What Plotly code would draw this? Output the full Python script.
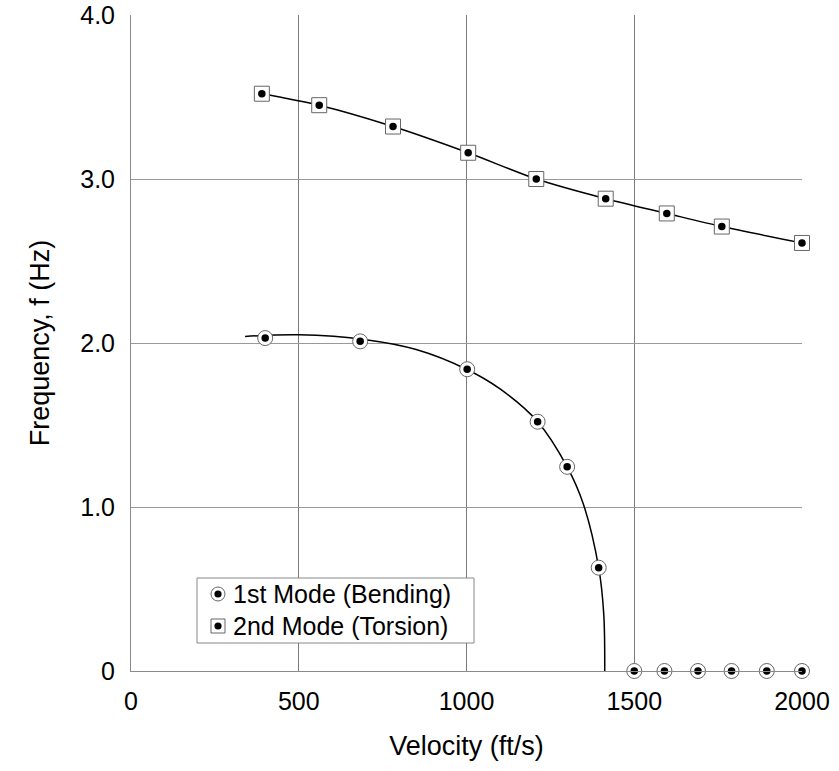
import plotly.graph_objects as go

# ---- data ----
bending_v = [400, 683, 1002, 1212, 1300, 1394, 1500, 1590, 1690, 1790, 1895, 2000]
bending_f = [2.03, 2.01, 1.84, 1.52, 1.245, 0.63, 0, 0, 0, 0, 0, 0]

bending_curve_v = [340, 500, 700, 850, 1000, 1100, 1212, 1300, 1348, 1394, 1409, 1412]
bending_curve_f = [2.04, 2.05, 2.02, 1.96, 1.84, 1.72, 1.52, 1.245, 1.02, 0.63, 0.35, 0.0]

torsion_v = [390, 561, 781, 1005, 1208, 1415, 1597, 1761, 2000]
torsion_f = [3.52, 3.45, 3.32, 3.16, 3.00, 2.88, 2.79, 2.71, 2.61]

x_ticks = [0, 500, 1000, 1500, 2000]
x_ticklabels = ["0", "500", "1000", "1500", "2000"]
y_ticks = [0, 1, 2, 3, 4]
y_ticklabels = ["0", "1.0", "2.0", "3.0", "4.0"]

legend_names = ["1st Mode (Bending)", "2nd Mode (Torsion)"]

FONT = "Liberation Sans, Arial, Helvetica, sans-serif"
W, H = 839, 771
L, R, T, B = 131, 37, 15, 100

fig = go.Figure()

# curves
fig.add_trace(go.Scatter(x=bending_curve_v, y=bending_curve_f, mode="lines",
                         line=dict(color="black", width=1.5, shape="spline", smoothing=1.0),
                         showlegend=False, hoverinfo="skip"))
fig.add_trace(go.Scatter(x=torsion_v, y=torsion_f, mode="lines",
                         line=dict(color="black", width=1.5, shape="spline", smoothing=0.8),
                         showlegend=False, hoverinfo="skip"))

# markers: outer open symbol + inner dot
fig.add_trace(go.Scatter(x=bending_v, y=bending_f, mode="markers", name=legend_names[0],
                         marker=dict(symbol="circle", size=15, color="white",
                                     line=dict(color="#666666", width=1)),
                         showlegend=False, cliponaxis=False))
fig.add_trace(go.Scatter(x=bending_v, y=bending_f, mode="markers",
                         marker=dict(symbol="circle", size=7.5, color="black", line=dict(width=0)),
                         showlegend=False, cliponaxis=False))
fig.add_trace(go.Scatter(x=torsion_v, y=torsion_f, mode="markers", name=legend_names[1],
                         marker=dict(symbol="square", size=15, color="white",
                                     line=dict(color="#666666", width=1)),
                         showlegend=False, cliponaxis=False))
fig.add_trace(go.Scatter(x=torsion_v, y=torsion_f, mode="markers",
                         marker=dict(symbol="circle", size=7.5, color="black", line=dict(width=0)),
                         showlegend=False, cliponaxis=False))

# ---- custom legend (box, symbols, texts) ----
pw, ph = W - L - R, H - T - B
def px_x(p):
    return (p - L) / pw
def px_y(p):
    return (H - B - p) / ph

shapes = []
shapes.append(dict(type="rect", xref="paper", yref="paper",
                   x0=px_x(197), x1=px_x(474), y0=px_y(643), y1=px_y(578),
                   fillcolor="white", line=dict(color="#888888", width=1), layer="above"))
rows = [594, 626]
sym_x = 218
for i, ry in enumerate(rows):
    kind = "circle" if i == 0 else "rect"
    shapes.append(dict(type=kind, xref="paper", yref="paper",
                       xsizemode="pixel", ysizemode="pixel",
                       xanchor=px_x(sym_x), yanchor=px_y(ry),
                       x0=-7, x1=7, y0=-7, y1=7,
                       fillcolor="white", line=dict(color="#666666", width=1), layer="above"))
    shapes.append(dict(type="circle", xref="paper", yref="paper",
                       xsizemode="pixel", ysizemode="pixel",
                       xanchor=px_x(sym_x), yanchor=px_y(ry),
                       x0=-3.6, x1=3.6, y0=-3.6, y1=3.6,
                       fillcolor="black", line=dict(color="black", width=0), layer="above"))

annotations = []
for i, ry in enumerate(rows):
    annotations.append(dict(text=legend_names[i], xref="paper", yref="paper",
                            x=px_x(231), y=px_y(ry), xanchor="left", yanchor="middle",
                            showarrow=False, font=dict(family=FONT, size=25, color="black")))

fig.update_layout(
    width=W, height=H,
    margin=dict(l=L, r=R, t=T, b=B, autoexpand=False),
    paper_bgcolor="white", plot_bgcolor="white",
    font=dict(family=FONT, size=25, color="black"),
    shapes=shapes, annotations=annotations,
    showlegend=False,
)
fig.update_xaxes(range=[0, 2000], tickvals=x_ticks, ticktext=x_ticklabels,
                 showgrid=True, gridcolor="#7a7a7a", gridwidth=1,
                 showline=True, linecolor="#8a8a8a", linewidth=1, mirror=False,
                 zeroline=False, ticks="", ticklabelstandoff=8,
                 ticklabeloverflow="allow",
                 tickfont=dict(size=25),
                 title=dict(text="Velocity (ft/s)", font=dict(size=27), standoff=22),
                 automargin=False)
fig.update_yaxes(range=[0, 4], tickvals=y_ticks, ticktext=y_ticklabels,
                 showgrid=True, gridcolor="#999999", gridwidth=1,
                 showline=True, linecolor="#8a8a8a", linewidth=1,
                 zeroline=False, ticks="", ticklabelstandoff=10,
                 ticklabeloverflow="allow",
                 tickfont=dict(size=25),
                 title=dict(text="Frequency, f (Hz)", font=dict(size=27), standoff=22),
                 automargin=False)

fig.write_html("out.html", config={"displayModeBar": False},
               post_script="document.body.style.margin='0';document.body.style.padding='0';")
